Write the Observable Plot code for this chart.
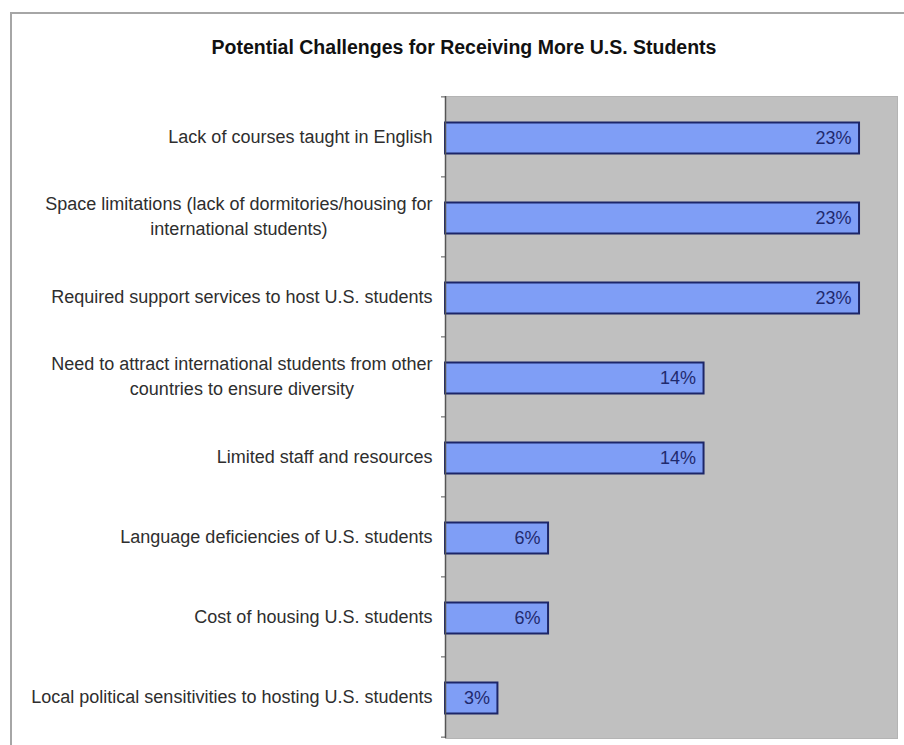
<!DOCTYPE html>
<html><head><meta charset="utf-8">
<script src="https://cdn.jsdelivr.net/npm/d3@7"></script>
<script src="https://cdn.jsdelivr.net/npm/@observablehq/plot@0.6"></script>
<style>
html,body{margin:0;padding:0;background:#fff;width:904px;height:745px;overflow:hidden;font-family:Arial,"Liberation Sans",sans-serif;}
#frame{position:absolute;left:10px;top:12px;width:1000px;height:1000px;border:2px solid #a6a6a6;box-sizing:border-box;}
#title{position:absolute;left:12px;width:904px;top:35px;line-height:24px;text-align:center;font-weight:bold;font-size:19.5px;color:#111;}
#chart{position:absolute;left:0;top:60px;}
</style></head><body>
<div id="frame"></div>
<div id="title">Potential Challenges for Receiving More U.S. Students</div>
<div id="chart"></div>
<script>
const categories = [
  "Lack of courses taught in English",
  "Space limitations (lack of dormitories/housing for\ninternational students)",
  "Required support services to host U.S. students",
  "Need to attract international students from other\ncountries to ensure diversity",
  "Limited staff and resources",
  "Language deficiencies of U.S. students",
  "Cost of housing U.S. students",
  "Local political sensitivities to hosting U.S. students"
];
const values = [22.9, 22.9, 22.9, 14.3, 14.3, 5.7, 5.7, 2.9];
const valueLabels = ["23%", "23%", "23%", "14%", "14%", "6%", "6%", "3%"];
const xDomain = [0, 25];

const data = categories.map((c, i) => ({label: c, value: values[i], text: valueLabels[i]}));

const W = 904, H = 685, mT = 36, mB = 7, mL = 445, mR = 7;
const step = (H - mT - mB) / categories.length;

const chart = Plot.plot({
  width: W, height: H,
  marginTop: mT, marginBottom: mB, marginLeft: mL, marginRight: mR,
  style: {fontFamily: "Arial, 'Liberation Sans', sans-serif", background: "transparent"},
  x: {domain: xDomain, axis: null},
  y: {domain: categories, paddingInner: 0.61, paddingOuter: 0.305, axis: null},
  marks: [
    Plot.frame({fill: "#c0c0c0", stroke: "#b4b4b4"}),
    Plot.barX(data, {x: "value", y: "label", fill: "#7f9ef6", stroke: "#1d2668", strokeWidth: 2, dy: 1.5}),
    Plot.text(data, {x: "value", y: "label", text: "text", textAnchor: "end", dx: -8, dy: 1.5, fill: "#1f2a6e", fontSize: 18}),
    Plot.ruleX([0], {stroke: "#555", strokeWidth: 1.5}),
    Plot.axisY({tickSize: 4, tickFormat: () => "", label: null, stroke: "#555", dy: -step / 2}),
    Plot.axisY({ticks: [categories[categories.length - 1]], tickSize: 4, tickFormat: () => "", label: null, stroke: "#555", dy: step / 2}),
    Plot.text(categories, {y: d => d, text: d => d, frameAnchor: "left", textAnchor: "end", dx: -13, dy: -2.5, fontSize: 18, lineHeight: 1.4, fill: "#2e2e2e"})
  ]
});
document.getElementById("chart").appendChild(chart);

// center the lines of multi-line labels within their right-aligned block
chart.querySelectorAll("text").forEach(t => {
  const spans = t.querySelectorAll("tspan");
  if (spans.length > 1) {
    const widths = Array.from(spans, s => s.getComputedTextLength());
    const maxW = Math.max(...widths);
    spans.forEach((s, i) => s.setAttribute("x", -(maxW - widths[i]) / 2));
  }
});
</script>
</body></html>
